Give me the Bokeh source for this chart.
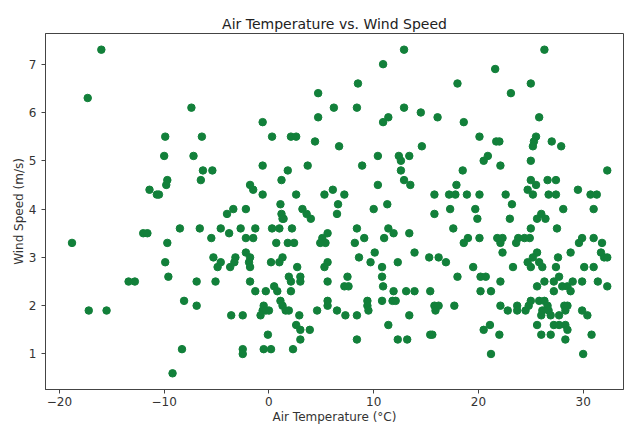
from bokeh.plotting import figure
from bokeh.models import FixedTicker, Range1d
from bokeh.embed import file_html
from bokeh.resources import INLINE

# Air temperature (°C) and wind speed (m/s) pairs
temps = [
    -16.0, -17.3, -7.4, -9.9, -6.4,
    12.9, 10.9, 8.5, 4.7, 6.2, 8.4, 12.9, 14.5, 4.7, -0.6, 11.4, 10.9, 0.3, 2.1, 2.6, 4.4, 6.7, 14.6,
    26.3, 21.6, 18.0, 25.0, 23.1, 16.1, 25.8, 18.6, 20.1, 21.7, 22.0, 25.5, 25.3, 25.2, 27.0, 27.9,
    -10.0, -7.2, -6.3, -5.4, -6.5, -9.7, -9.8, -11.4, -10.7, -10.5, -4.0, -12.0, -11.6, -8.5, -6.6,
    -4.6, -3.8, -5.5, -18.8, -9.7, -5.3, -4.6, -4.9, -3.7, -9.9, -9.6, -13.4, -12.8, -6.9, -5.1,
    -17.2, -15.5, -8.1, -6.9, -3.6, -8.3, -9.2,
    10.4, 12.4, 12.6, 13.4, -0.6, 3.7, 8.9, 1.8, 12.6, 1.2, 12.9, 13.5, 10.4, -1.8, -1.5, -0.6, 2.6,
    5.3, 6.1, 7.2, 6.6, 6.5, 11.3, 10.0, -3.4, -2.2, 1.1, 1.2, 1.3, 1.4, 3.2, 3.6, 4.0, -2.7, -1.3,
    0.3, 1.0, 2.2, -2.2, -1.5, 0.7, 1.8, 2.4, 5.6, 5.1, 4.9, 5.4, 8.4, 9.1, 8.2, 11.4, 11.9, 11.0,
    13.4, 10.1, 8.6, 9.7, 10.8, 12.3, 13.9, 15.3, -3.2, -3.3, -2.2, -1.8, -1.9, -1.8, 0.2, 1.0, 1.3,
    2.7, 5.6, 5.3, 1.9, 3.0, 7.5, 10.8,
    -1.8, -1.3, -0.3, 0.5, 0.8, 2.1, 3.0, 2.1, 5.6, 7.2, 7.6, 10.9, 11.9, 13.1, 13.9, 15.4, -2.5,
    -0.5, -0.6, -0.3, 0.0, -0.8, 1.1, 1.3, 1.6, 1.9, 2.9, 4.6, 5.6, 5.6, 6.5, 7.3, 8.4, 9.4, 9.4,
    9.5, 10.8, 11.8, 12.1, 13.4, 2.6, 3.0, 3.9, -0.1, 3.0, 2.3, -0.5, 0.2, -2.5, -2.5, 8.4, 11.4,
    12.3, 13.2, 15.4,
    20.9, 20.5, 22.1, 25.0, 18.5, 32.3, 17.9, 25.0, 25.5, 26.6, 27.4, 29.5, 15.8, 17.2, 17.8, 18.9,
    20.1, 22.6, 24.7, 25.2, 26.7, 27.4, 30.7, 31.3, 23.2, 15.8, 17.3, 19.7, 19.9, 23.0, 26.0, 25.6,
    26.4, 28.1, 31.0, 17.6, 25.0, 27.5, 19.0, 18.6, 20.1, 21.8, 22.3, 22.1, 23.8, 23.6, 24.4, 24.9,
    29.9, 29.6, 31.0, 31.8, 16.2, 16.9, 19.5, 22.3, 23.3, 25.6, 25.2, 24.7, 25.0, 25.8, 26.1, 27.6,
    28.8, 31.7, 32.0, 32.3, 30.1, 31.0, 27.4,
    18.0, 20.2, 20.7, 22.1, 20.2, 21.2, 25.6, 26.3, 27.2, 27.2, 28.0, 28.5, 28.8, 29.0, 27.7, 29.9,
    31.4, 32.3, 15.8, 16.2, 15.9, 17.7, 22.1, 22.8, 23.7, 23.7, 24.5, 24.8, 25.0, 25.8, 26.3, 26.6,
    26.1, 26.7, 26.0, 26.9, 27.7, 28.2, 28.5, 28.3, 29.9, 30.4, 15.6, 20.5, 21.1, 22.0, 25.6, 26.0,
    26.9, 27.2, 27.7, 28.3, 28.5, 28.3, 30.8, 21.2, 30.0,
]
winds = [
    7.3, 6.3, 6.1, 5.5, 5.5,
    7.3, 7.0, 6.6, 6.4, 6.1, 6.1, 6.1, 6.0, 5.9, 5.8, 5.9, 5.8, 5.5, 5.5, 5.5, 5.4, 5.3, 5.3,
    7.3, 6.9, 6.6, 6.6, 6.4, 5.9, 5.9, 5.8, 5.5, 5.4, 5.4, 5.5, 5.4, 5.3, 5.4, 5.3,
    5.1, 5.1, 4.8, 4.8, 4.6, 4.6, 4.5, 4.4, 4.3, 4.3, 3.9, 3.5, 3.5, 3.6, 3.6,
    3.6, 3.5, 3.4, 3.3, 3.3, 3.0, 2.9, 2.8, 2.8, 2.9, 2.6, 2.5, 2.5, 2.5, 2.5,
    1.9, 1.9, 2.1, 2.0, 1.8, 1.1, 0.6,
    5.1, 5.1, 5.0, 5.1, 4.9, 4.9, 4.9, 4.8, 4.8, 4.6, 4.6, 4.5, 4.5, 4.5, 4.4, 4.3, 4.3,
    4.3, 4.4, 4.3, 4.1, 3.9, 4.1, 4.0, 4.0, 4.0, 4.1, 3.9, 3.8, 3.8, 4.0, 3.9, 3.8, 3.6, 3.6,
    3.6, 3.6, 3.6, 3.4, 3.4, 3.3, 3.3, 3.3, 3.5, 3.4, 3.3, 3.3, 3.6, 3.4, 3.3, 3.6, 3.5, 3.4,
    3.5, 3.1, 3.0, 2.9, 2.8, 2.9, 3.1, 3.0, 3.0, 2.9, 3.1, 3.0, 2.9, 2.8, 2.9, 2.9, 3.0,
    2.8, 2.9, 2.8, 2.6, 2.6, 2.6, 2.6,
    2.5, 2.3, 2.3, 2.4, 2.3, 2.5, 2.5, 2.3, 2.5, 2.4, 2.4, 2.4, 2.3, 2.3, 2.3, 2.3, 1.8,
    2.0, 1.9, 1.9, 1.9, 1.8, 2.1, 2.0, 1.9, 1.9, 1.8, 1.9, 2.1, 2.0, 1.9, 1.8, 1.8, 2.1, 2.0,
    1.9, 2.1, 2.1, 2.1, 1.8, 1.6, 1.5, 1.5, 1.4, 1.3, 1.1, 1.1, 1.1, 1.1, 1.0, 1.3, 1.6,
    1.3, 1.3, 1.4,
    5.1, 5.0, 4.9, 5.0, 4.8, 4.8, 4.5, 4.6, 4.5, 4.6, 4.6, 4.4, 4.3, 4.3, 4.3, 4.3,
    4.3, 4.3, 4.4, 4.3, 4.3, 4.3, 4.3, 4.3, 4.1, 3.9, 4.0, 4.0, 3.8, 3.8, 3.9, 3.8,
    3.8, 4.0, 4.0, 3.6, 3.6, 3.6, 3.4, 3.3, 3.4, 3.4, 3.4, 3.3, 3.4, 3.3, 3.4, 3.4,
    3.4, 3.3, 3.4, 3.3, 3.0, 2.9, 2.8, 3.1, 2.8, 3.1, 3.0, 2.9, 2.8, 2.9, 2.8, 3.0,
    3.1, 3.1, 3.0, 3.0, 2.8, 2.8, 2.8,
    2.6, 2.6, 2.6, 2.5, 2.3, 2.3, 2.4, 2.5, 2.5, 2.3, 2.4, 2.4, 2.3, 2.5, 2.6, 2.5,
    2.5, 2.4, 2.0, 2.0, 1.9, 2.0, 2.0, 1.9, 2.0, 1.9, 1.9, 2.0, 2.1, 2.1, 2.1, 2.0,
    1.9, 1.9, 1.8, 1.8, 1.8, 2.0, 2.0, 1.9, 1.9, 1.8, 1.4, 1.5, 1.6, 1.4, 1.6, 1.4,
    1.4, 1.6, 1.6, 1.6, 1.5, 1.3, 1.4, 1.0, 1.0,
]

x_ticks = [-20, -10, 0, 10, 20, 30]
x_tick_labels = ["\u221220", "\u221210", "0", "10", "20", "30"]
y_ticks = [1, 2, 3, 4, 5, 6, 7]
y_tick_labels = ["1", "2", "3", "4", "5", "6", "7"]

FONT = "DejaVu Sans"

p = figure(
    width=634, height=427,
    output_backend="svg", toolbar_location=None,
    x_range=Range1d(-21.33, 33.85), y_range=Range1d(0.265, 7.635),
    title="Air Temperature vs. Wind Speed",
    min_border_left=45, min_border_right=11, min_border_top=33, min_border_bottom=38,
)

p.scatter(temps, winds, size=7.5, color="#12803a", line_color="#12803a")

p.title.align = "center"
p.title.text_font = FONT
p.title.text_font_size = "14px"
p.title.text_font_style = "normal"
p.title.text_color = "#222222"
p.title.standoff = 3

p.xgrid.visible = False
p.ygrid.visible = False
p.outline_line_color = "#444444"
p.outline_line_width = 1
p.background_fill_color = "white"
p.border_fill_color = "white"

for ax in (p.xaxis[0], p.yaxis[0]):
    ax.axis_line_color = "#444444"
    ax.major_tick_line_color = "#444444"
    ax.major_tick_out = 4
    ax.major_tick_in = 0
    ax.minor_tick_out = 0
    ax.minor_tick_in = 0
    ax.major_label_text_font = FONT
    ax.major_label_text_font_size = "12px"
    ax.major_label_text_color = "#333333"
    ax.axis_label_text_font = FONT
    ax.axis_label_text_font_size = "12px"
    ax.axis_label_text_font_style = "normal"
    ax.axis_label_text_color = "#333333"

p.xaxis.ticker = FixedTicker(ticks=x_ticks)
p.xaxis.major_label_overrides = {t: l for t, l in zip(x_ticks, x_tick_labels)}
p.yaxis.ticker = FixedTicker(ticks=y_ticks)
p.yaxis.major_label_overrides = {t: l for t, l in zip(y_ticks, y_tick_labels)}
p.xaxis.axis_label = "Air Temperature (\u00b0C)"
p.yaxis.axis_label = "Wind Speed (m/s)"
p.xaxis.major_label_standoff = 3
p.xaxis.axis_label_standoff = 1
p.yaxis.major_label_standoff = 5
p.yaxis.axis_label_standoff = 0

open("out.html", "w").write(file_html(p, INLINE))
